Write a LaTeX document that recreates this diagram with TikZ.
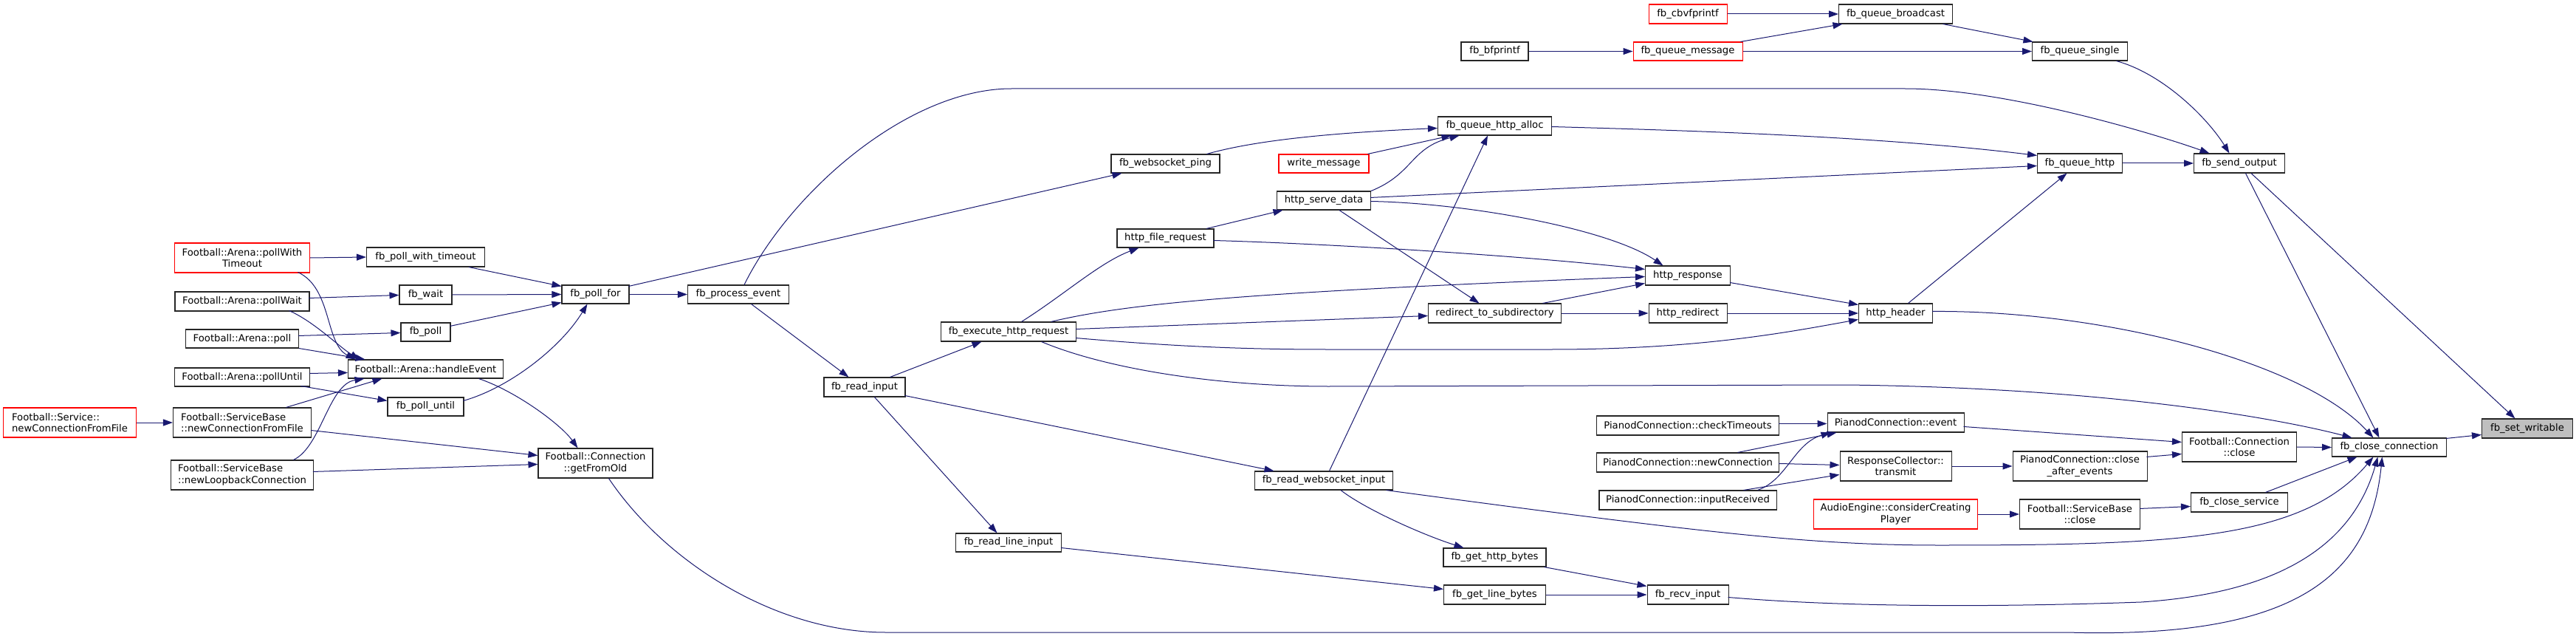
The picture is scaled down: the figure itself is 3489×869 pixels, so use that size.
\documentclass[tikz,border=0pt]{standalone}
\usepackage{fontspec}
\setmainfont{DejaVu Sans}
\usetikzlibrary{arrows.meta,calc}
\definecolor{edgecol}{HTML}{191970}
\definecolor{selfill}{HTML}{BFBFBF}
\newcommand\nodefont{\fontsize{13.2}{15.6}\selectfont}
\tikzset{
  box/.style={draw=black!85, fill=white, line width=1.05pt, rectangle, inner sep=0pt, font=\nodefont, align=center},
  redbox/.style={box, draw=red},
  selbox/.style={box, fill=selfill},
  conn/.style={draw=edgecol, line width=1pt, -{Triangle[length=13pt,width=9pt]}}
}
\begin{document}
\begin{tikzpicture}[x=1pt,y=-1pt]
\path[fill=white] (0,0) rectangle (3489,869);
\useasboundingbox (0,0) rectangle (3489,869);
% ---------- nodes ----------
\node[redbox,minimum width=183pt,minimum height=40pt] (pwt) at (328,349) {Football::Arena::pollWith\\Timeout};
\node[box,minimum width=160pt,minimum height=26pt] (fpwt) at (576.5,348) {fb\_poll\_with\_timeout};
\node[box,minimum width=182pt,minimum height=26pt] (pwait) at (328,408) {Football::Arena::pollWait};
\node[box,minimum width=71pt,minimum height=26pt] (fwait) at (576.5,399) {fb\_wait};
\node[box,minimum width=153pt,minimum height=25pt] (apoll) at (328,458.5) {Football::Arena::poll};
\node[box,minimum width=67pt,minimum height=25pt] (fpoll) at (576.5,449.5) {fb\_poll};
\node[box,minimum width=210pt,minimum height=25pt] (hev) at (576.5,499.5) {Football::Arena::handleEvent};
\node[box,minimum width=183pt,minimum height=25pt] (puntil) at (328,510.5) {Football::Arena::pollUntil};
\node[box,minimum width=103pt,minimum height=25pt] (fpuntil) at (576.5,550.5) {fb\_poll\_until};
\node[redbox,align=left,minimum width=180pt,minimum height=40pt] (snc) at (94.5,572) {Football::Service::\\newConnectionFromFile};
\node[box,align=left,minimum width=187pt,minimum height=40pt] (sbnc) at (328,572) {Football::ServiceBase\\::newConnectionFromFile};
\node[box,align=left,minimum width=193pt,minimum height=40pt] (sbloop) at (328,643) {Football::ServiceBase\\::newLoopbackConnection};
\node[box,minimum width=91pt,minimum height=25pt] (fpollfor) at (806.5,398.5) {fb\_poll\_for};
\node[box,minimum width=137pt,minimum height=25pt] (fproc) at (1000,398.5) {fb\_process\_event};
\node[box,minimum width=155pt,minimum height=40pt] (getold) at (806.5,627) {Football::Connection\\::getFromOld};
\node[box,minimum width=110pt,minimum height=26pt] (fread) at (1171,524) {fb\_read\_input};
\node[box,minimum width=147pt,minimum height=25pt] (fwsping) at (1578.5,221.5) {fb\_websocket\_ping};
\node[redbox,minimum width=122pt,minimum height=25pt] (wmsg) at (1793,221.5) {write\_message};
\node[box,minimum width=127pt,minimum height=25pt] (hserve) at (1793,271.5) {http\_serve\_data};
\node[box,minimum width=131pt,minimum height=25pt] (hfile) at (1578.5,322.5) {http\_file\_request};
\node[box,minimum width=183pt,minimum height=26pt] (fexec) at (1366,449) {fb\_execute\_http\_request};
\node[box,minimum width=143pt,minimum height=25pt] (freadline) at (1366,734.5) {fb\_read\_line\_input};
\node[box,minimum width=187pt,minimum height=25pt] (fwsinput) at (1793,650.5) {fb\_read\_websocket\_input};
\node[redbox,minimum width=106pt,minimum height=26pt] (fcbv) at (2286,19) {fb\_cbvfprintf};
\node[box,minimum width=91pt,minimum height=25pt] (fbfp) at (2024.5,69.5) {fb\_bfprintf};
\node[redbox,minimum width=148pt,minimum height=25pt] (fqmsg) at (2286,69.5) {fb\_queue\_message};
\node[box,minimum width=154pt,minimum height=25pt] (fqalloc) at (2024.5,170.5) {fb\_queue\_http\_alloc};
\node[box,minimum width=115pt,minimum height=26pt] (hresp) at (2286,373) {http\_response};
\node[box,minimum width=180pt,minimum height=26pt] (redir) at (2024.5,424) {redirect\_to\_subdirectory};
\node[box,minimum width=106pt,minimum height=26pt] (hredir) at (2286,424) {http\_redirect};
\node[box,minimum width=247pt,minimum height=26pt] (pcheck) at (2286,576) {PianodConnection::checkTimeouts};
\node[box,minimum width=247pt,minimum height=26pt] (pnew) at (2286,626) {PianodConnection::newConnection};
\node[box,minimum width=240pt,minimum height=26pt] (pinput) at (2286,677) {PianodConnection::inputReceived};
\node[box,minimum width=139pt,minimum height=25pt] (fghttp) at (2024.5,754.5) {fb\_get\_http\_bytes};
\node[box,minimum width=138pt,minimum height=26pt] (fgline) at (2024.5,805) {fb\_get\_line\_bytes};
\node[box,minimum width=110pt,minimum height=26pt] (frecv) at (2286,805) {fb\_recv\_input};
\node[box,minimum width=154pt,minimum height=26pt] (fqbcast) at (2567.5,19) {fb\_queue\_broadcast};
\node[box,minimum width=129pt,minimum height=25pt] (fqsingle) at (2817,69.5) {fb\_queue\_single};
\node[box,minimum width=115pt,minimum height=26pt] (fqhttp) at (2817,221) {fb\_queue\_http};
\node[box,minimum width=100pt,minimum height=26pt] (hheader) at (2567.5,424) {http\_header};
\node[box,minimum width=185pt,minimum height=26pt] (pevent) at (2567.5,572) {PianodConnection::event};
\node[box,minimum width=151pt,minimum height=40pt] (rctrans) at (2567.5,631) {ResponseCollector::\\transmit};
\node[box,minimum width=182pt,minimum height=40pt] (pclose) at (2817,631) {PianodConnection::close\\\_after\_events};
\node[redbox,minimum width=222pt,minimum height=40pt] (audio) at (2567.5,696) {AudioEngine::considerCreating\\Player};
\node[box,minimum width=163pt,minimum height=40pt] (sbclose) at (2817,696) {Football::ServiceBase\\::close};
\node[box,minimum width=123pt,minimum height=26pt] (fsend) at (3033,221) {fb\_send\_output};
\node[box,minimum width=155pt,minimum height=40pt] (cclose) at (3033,605) {Football::Connection\\::close};
\node[box,minimum width=155pt,minimum height=25pt] (fclose) at (3236,605.5) {fb\_close\_connection};
\node[box,minimum width=131pt,minimum height=26pt] (fcserv) at (3033,680) {fb\_close\_service};
\node[selbox,minimum width=123pt,minimum height=26pt] (fset) at (3423,580) {fb\_set\_writable};
% ---------- connectors ----------
\draw[conn] (pwt.east) -- (fpwt.west);
\draw[conn] ($(pwt.north west)+(167.5,40)$) .. controls (450,390) and (440,465) .. ($(hev.north west)+(10.5,0)$);
\draw[conn] ($(pwait.north west)+(182,9)$) -- ($(fwait.north west)+(0,14)$);
\draw[conn] ($(pwait.north west)+(155,26)$) .. controls (425,435) and (460,470) .. ($(hev.north west)+(16,0)$);
\draw[conn] ($(apoll.north west)+(153,9)$) -- ($(fpoll.north west)+(0,14)$);
\draw[conn] (apoll.south east) -- ($(hev.north west)+(23.5,0)$);
\draw[conn] ($(puntil.north west)+(183,8)$) -- ($(hev.north west)+(0,18)$);
\draw[conn] ($(puntil.north west)+(171.5,25)$) -- ($(fpuntil.north west)+(0,5)$);
\draw[conn] ($(sbnc.north west)+(153.5,0)$) -- ($(hev.south west)+(46.5,0)$);
\draw[conn] ($(sbloop.north west)+(166.5,0)$) .. controls (435,605) and (445,520) .. ($(hev.south west)+(22.5,0)$);
\draw[conn] (snc.east) -- (sbnc.west);
\draw[conn] ($(sbnc.north west)+(187,31)$) -- ($(getold.north west)+(0,10)$);
\draw[conn] ($(sbloop.north west)+(193,16)$) -- ($(getold.north west)+(0,22)$);
\draw[conn] ($(hev.south west)+(177.5,0)$) .. controls (700,530) and (760,575) .. ($(getold.north west)+(54,0)$);
\draw[conn] ($(fpwt.south west)+(139,0)$) -- ($(fpollfor.north west)+(0,2)$);
\draw[conn] (fwait.east) -- (fpollfor.west);
\draw[conn] ($(fpoll.north west)+(67,5)$) -- ($(fpollfor.north west)+(0,24)$);
\draw[conn] ($(fpuntil.north west)+(103,5)$) .. controls (690,525) and (760,470) .. ($(fpollfor.south west)+(35,0)$);
\draw[conn] (fpollfor.east) -- (fproc.west);
\draw[conn] ($(fpollfor.north west)+(91,2)$) -- ($(fwsping.south west)+(15,0)$);
\draw[conn] ($(fproc.south west)+(86.5,0)$) -- ($(fread.north west)+(34,0)$);
\draw[conn] ($(fproc.north west)+(77,0)$) .. controls (1070,260) and (1230,120) .. (1370,120) -- (2580,120) .. controls (2720,120) and (2930,185) .. ($(fsend.north west)+(21.5,0)$);
\draw[conn] ($(fqsingle.south west)+(114.5,0)$) .. controls (2930,100) and (2990,160) .. ($(fsend.north west)+(48.5,0)$);
\draw[conn] (fqhttp.east) -- (fsend.west);
\draw[conn] ($(fread.north west)+(90,0)$) -- ($(fexec.south west)+(55.5,0)$);
\draw[conn] ($(fread.north west)+(110,25)$) -- ($(fwsinput.north west)+(26.5,0)$);
\draw[conn] ($(fread.south west)+(69,0)$) -- ($(freadline.north west)+(56.5,0)$);
\draw[conn] ($(getold.south west)+(96,0)$) .. controls (900,760) and (1050,856) .. (1200,856) -- (2800,856) .. controls (3110,865) and (3210,780) .. ($(fclose.south west)+(68.5,0)$);
\draw[conn] ($(fexec.north west)+(109.5,0)$) .. controls (1440,400) and (1490,355) .. ($(hfile.south west)+(30,0)$);
\draw[conn] ($(fexec.north west)+(149.5,0)$) .. controls (1530,410) and (1700,395) .. ($(hresp.north west)+(0,15)$);
\draw[conn] ($(fexec.north west)+(183,10)$) -- ($(redir.north west)+(0,17)$);
\draw[conn] ($(fexec.north west)+(183,22)$) .. controls (1600,470) and (1700,473) .. (1800,473) -- (2100,473) .. controls (2300,473) and (2420,450) .. ($(hheader.north west)+(0,22)$);
\draw[conn] ($(fexec.south west)+(136.5,0)$) .. controls (1500,500) and (1650,523) .. (1800,523) -- (2500,521) .. controls (2850,525) and (3080,565) .. ($(fclose.north west)+(27.5,0)$);
\draw[conn] ($(hfile.north west)+(121.5,0)$) -- ($(hserve.south west)+(8.5,0)$);
\draw[conn] ($(hfile.north west)+(131,16)$) .. controls (1800,330) and (2050,345) .. ($(hresp.north west)+(0,5)$);
\draw[conn] ($(hserve.north west)+(127,14)$) .. controls (1990,275) and (2180,310) .. ($(hresp.north west)+(24.5,0)$);
\draw[conn] (hserve.north east) .. controls (1915,235) and (1910,200) .. ($(fqalloc.south west)+(29.5,0)$);
\draw[conn] ($(hserve.north west)+(127,9)$) -- ($(fqhttp.north west)+(0,17)$);
\draw[conn] ($(hserve.south west)+(85,0)$) -- ($(redir.north west)+(69.5,0)$);
\draw[conn] ($(fqalloc.north west)+(154,14)$) .. controls (2300,177) and (2550,185) .. ($(fqhttp.north west)+(0,3)$);
\draw[conn] ($(fwsping.north west)+(130,0)$) .. controls (1700,190) and (1800,180) .. ($(fqalloc.north west)+(0,16)$);
\draw[conn] ($(wmsg.north west)+(121,0)$) -- ($(fqalloc.south west)+(18.5,0)$);
\draw[conn] ($(fwsinput.north west)+(101.5,0)$) -- ($(fqalloc.south west)+(68,0)$);
\draw[conn] ($(redir.north west)+(155.5,0)$) -- ($(hresp.north west)+(0,24)$);
\draw[conn] (redir.east) -- (hredir.west);
\draw[conn] (hredir.east) -- (hheader.west);
\draw[conn] ($(hresp.north west)+(115,23)$) -- ($(hheader.north west)+(0,2)$);
\draw[conn] ($(hheader.north west)+(67.5,0)$) -- ($(fqhttp.south west)+(40.5,0)$);
\draw[conn] ($(hheader.north west)+(100,11)$) .. controls (2850,420) and (3120,490) .. ($(fclose.north west)+(56.5,0)$);
\draw[conn] ($(fqbcast.south west)+(141.5,0)$) -- ($(fqsingle.north west)+(1.5,0)$);
\draw[conn] (fqmsg.east) -- (fqsingle.west);
\draw[conn] ($(fqmsg.north west)+(146,0)$) -- ($(fqbcast.south west)+(5.5,0)$);
\draw[conn] (fcbv.east) -- (fqbcast.west);
\draw[conn] (fbfp.east) -- (fqmsg.west);
\draw[conn] ($(fsend.south west)+(70.5,0)$) -- ($(fclose.north west)+(64.5,0)$);
\draw[conn] ($(fsend.south west)+(78,0)$) -- ($(fset.north west)+(45.5,0)$);
\draw[conn] ($(fclose.north west)+(155,1)$) -- ($(fset.north west)+(0,22)$);
\draw[conn] (cclose.east) -- (fclose.west);
\draw[conn] ($(fcserv.north west)+(101.5,0)$) -- ($(fclose.south west)+(34.5,0)$);
\draw[conn] ($(fwsinput.south west)+(178.5,0)$) .. controls (2300,720) and (2450,738) .. (2626,738) .. controls (2950,738) and (3120,730) .. ($(fclose.south west)+(56.5,0)$);
\draw[conn] ($(frecv.north west)+(110,17)$) .. controls (2500,822) and (2700,822) .. (2900,815) .. controls (3050,805) and (3180,760) .. ($(fclose.south west)+(62.5,0)$);
\draw[conn] ($(freadline.north west)+(143,20)$) -- ($(fgline.north west)+(0,6)$);
\draw[conn] ($(fwsinput.south west)+(117,0)$) .. controls (1850,690) and (1930,725) .. ($(fghttp.north west)+(28,0)$);
\draw[conn] ($(fghttp.south west)+(137,0)$) -- ($(frecv.north west)+(0,2)$);
\draw[conn] (fgline.east) -- (frecv.west);
\draw[conn] ($(pcheck.north west)+(247,11)$) -- ($(pevent.north west)+(0,15)$);
\draw[conn] ($(pnew.north west)+(191.5,0)$) -- ($(pevent.south west)+(13,0)$);
\draw[conn] ($(pnew.north west)+(247,15)$) -- ($(rctrans.north west)+(0,19)$);
\draw[conn] ($(pinput.north west)+(215,0)$) .. controls (2420,650) and (2430,600) .. ($(pevent.south west)+(5,0)$);
\draw[conn] ($(pinput.north west)+(196,0)$) -- ($(rctrans.north west)+(0,32)$);
\draw[conn] (rctrans.east) -- (pclose.west);
\draw[conn] (audio.east) -- (sbclose.west);
\draw[conn] ($(pevent.north west)+(185,19)$) -- ($(cclose.north west)+(0,14)$);
\draw[conn] ($(pclose.north west)+(182,8)$) -- ($(cclose.north west)+(0,30)$);
\draw[conn] ($(sbclose.north west)+(163,13)$) -- ($(fcserv.north west)+(0,19)$);
\end{tikzpicture}
\end{document}
